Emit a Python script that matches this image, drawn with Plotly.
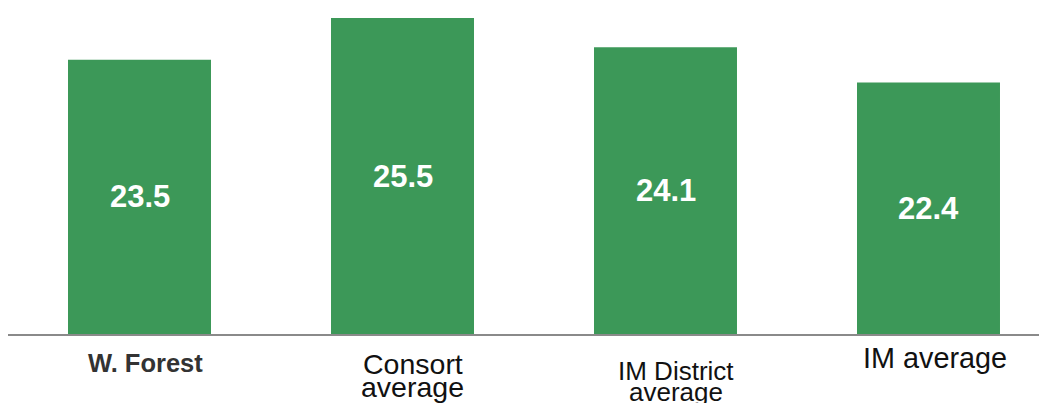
import plotly.graph_objects as go

categories = ["W. Forest", "Consort average", "IM District average", "IM average"]
values = [23.5, 25.5, 24.1, 22.4]
tick_lines = [["W. Forest"], ["Consort", "average"], ["IM District", "average"], ["IM average"]]

# label styling (pixels below the baseline / right of bar centre, sizes, weight)
label_first_y = [28.5, 29.5, 36.5, 23.5]
label_line_gap = [0, 23, 21.5, 0]
label_xshift = [6, 10, 10, 6.5]
label_size = [25.5, 28.5, 26, 28.8]
label_bold = [True, False, False, False]
label_color = ["#333333", "#111111", "#111111", "#111111"]

Y_MIN, Y_MAX = 10.34, 25.98
BAR = "#3C9858"
FONT = "Liberation Sans, Arial, sans-serif"
x = list(range(len(categories)))

fig = go.Figure()
fig.add_trace(go.Bar(
    x=x, y=values, width=0.5437,
    marker=dict(color=BAR, line=dict(width=0)),
    hoverinfo="skip",
))

annotations = []
# value labels centred in the visible part of each bar
for i, v in enumerate(values):
    annotations.append(dict(
        x=x[i], xref="x", y=(Y_MIN + v) / 2, yref="y",
        text=f"<b>{v:.1f}</b>", showarrow=False, xanchor="center", yanchor="middle",
        font=dict(family=FONT, size=31, color="white"),
    ))
# category labels
for i, lines in enumerate(tick_lines):
    for j, line in enumerate(lines):
        txt = f"<b>{line}</b>" if label_bold[i] else line
        annotations.append(dict(
            x=x[i], xref="x", y=0, yref="paper",
            text=txt, showarrow=False, xanchor="center", yanchor="middle",
            xshift=label_xshift[i],
            yshift=-(label_first_y[i] + j * label_line_gap[i]),
            font=dict(family=FONT, size=label_size[i], color=label_color[i]),
        ))

fig.update_layout(
    width=1047, height=403,
    margin=dict(l=0, r=0, t=0, b=77),
    paper_bgcolor="white", plot_bgcolor="white",
    showlegend=False,
    annotations=annotations,
    xaxis=dict(range=[-0.5, 3.481], showticklabels=False, ticks="", showgrid=False,
               zeroline=False, showline=True, linecolor="#8a8a8a", linewidth=1.5, fixedrange=True),
    yaxis=dict(range=[Y_MIN, Y_MAX], visible=False, showgrid=False, zeroline=False, fixedrange=True),
)

fig.write_html("out.html")
